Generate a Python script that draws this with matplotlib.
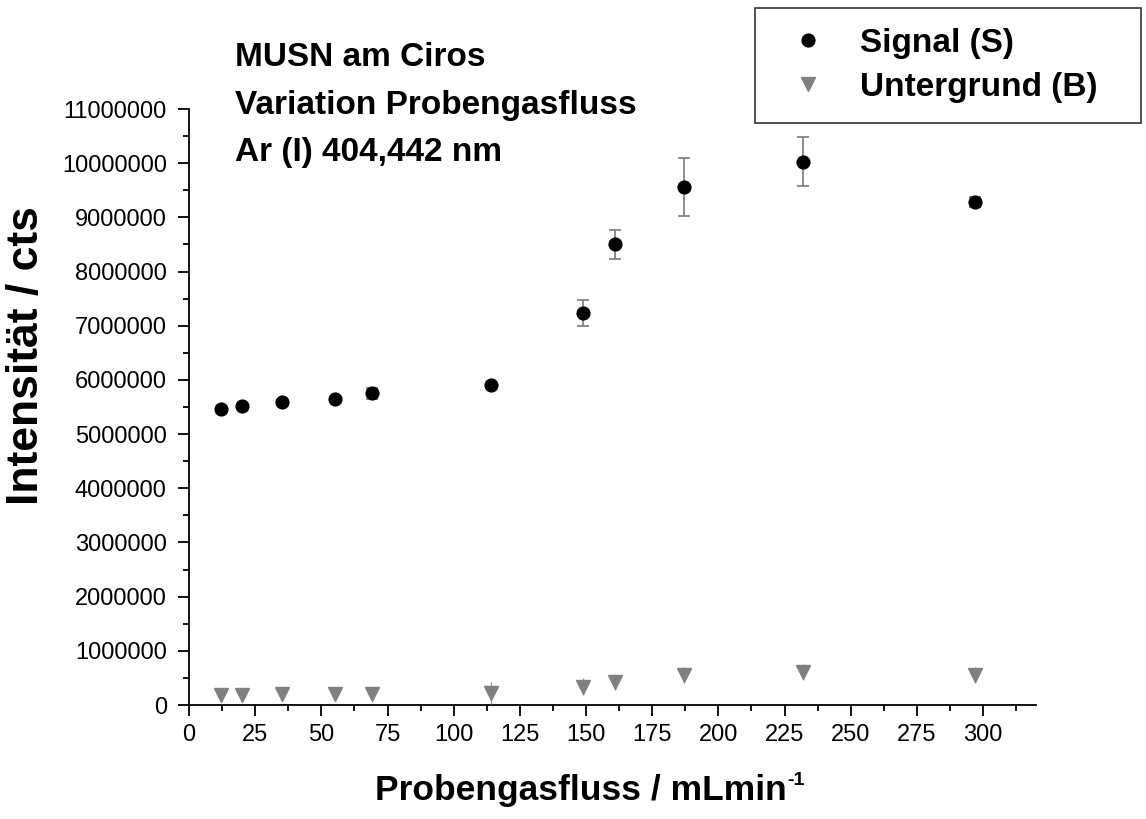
import matplotlib
matplotlib.use("Agg")
import matplotlib.pyplot as plt
from matplotlib.ticker import MultipleLocator, FuncFormatter

# ---- data ----
flow = [12, 20, 35, 55, 69, 114, 149, 161, 187, 232, 297]
signal = [5470000, 5510000, 5590000, 5650000, 5750000, 5910000,
          7230000, 8500000, 9560000, 10030000, 9280000]
signal_err = [20000, 20000, 30000, 30000, 100000, 40000,
              240000, 260000, 530000, 460000, 90000]
background = [190000, 190000, 200000, 200000, 200000, 220000,
              340000, 430000, 550000, 610000, 550000]
background_err = [10000, 10000, 10000, 10000, 10000, 200000,
                  150000, 150000, 150000, 150000, 150000]
title_lines = ["MUSN am Ciros", "Variation Probengasfluss", "Ar (I) 404,442 nm"]
legend_labels = ["Signal (S)", "Untergrund (B)"]
xlabel_main = "Probengasfluss / mLmin"
xlabel_sup = "-1"
ylabel = "Intensität / cts"

plt.rcParams['font.family'] = ['Liberation Sans', 'DejaVu Sans']

W, H = 1146, 819
fig = plt.figure(figsize=(W / 100, H / 100), dpi=100)
ax = fig.add_axes([189 / W, 1 - 705 / H, (1036 - 189) / W, (705 - 109) / H])

sig = ax.errorbar(flow, signal, yerr=signal_err, fmt='o', color='black',
                  ms=9.2, ecolor='#7a7a7a', elinewidth=1.2, capsize=4.5,
                  capthick=1.2, zorder=3)
bg = ax.errorbar(flow, background, yerr=background_err, fmt='v', color='#808080',
                 ms=10.5, ecolor='#9a9a9a', elinewidth=1.0, capsize=0,
                 zorder=3)

ax.set_xlim(0, 320)
ax.set_ylim(0, 11000000)
ax.xaxis.set_major_locator(MultipleLocator(25))
ax.xaxis.set_minor_locator(MultipleLocator(12.5))
ax.yaxis.set_major_locator(MultipleLocator(1000000))
ax.yaxis.set_minor_locator(MultipleLocator(500000))
ax.yaxis.set_major_formatter(FuncFormatter(lambda v, p: f"{int(round(v))}"))
ax.xaxis.set_major_formatter(FuncFormatter(lambda v, p: f"{int(round(v))}"))

for s in ['top', 'right']:
    ax.spines[s].set_visible(False)
for s in ['left', 'bottom']:
    ax.spines[s].set_linewidth(1.3)
ax.tick_params(axis='both', which='major', direction='out', length=8, width=1.3,
               labelsize=17)
ax.tick_params(axis='both', which='minor', direction='out', length=4, width=1.3)
ax.tick_params(axis='y', which='major', pad=8)
ax.tick_params(axis='x', which='major', pad=6)

# title lines
baselines = [66, 114, 161]
for line, yb in zip(title_lines, baselines):
    fig.text(235 / W, 1 - yb / H, line, fontsize=24, fontweight='bold',
             ha='left', va='baseline')

# axis labels
xl = fig.text(375 / W, 1 - 800 / H, xlabel_main, fontsize=25.5,
              fontweight='bold', ha='left', va='baseline')
fig.canvas.draw()
bb = xl.get_window_extent(fig.canvas.get_renderer())
fig.text((bb.x1 + 1) / W, 1 - 785 / H, xlabel_sup, fontsize=14,
         fontweight='bold', ha='left', va='baseline')
fig.text(27 / W, 1 - 356 / H, ylabel, fontsize=32,
         fontweight='bold', ha='center', va='center', rotation=90)

# legend
leg = fig.legend([sig[0], bg[0]], legend_labels, loc='upper left',
                 bbox_to_anchor=(755 / W, 1 - 8 / H, (1141 - 755) / W, 0),
                 mode='expand', prop={'size': 24, 'weight': 'bold'},
                 frameon=True, fancybox=False, edgecolor='black',
                 handlelength=2.0, handletextpad=0.55, borderpad=0.6,
                 labelspacing=0.38, borderaxespad=0, markerscale=1.0)
leg.get_frame().set_linewidth(1.2)

fig.savefig('out.png', dpi=100)
